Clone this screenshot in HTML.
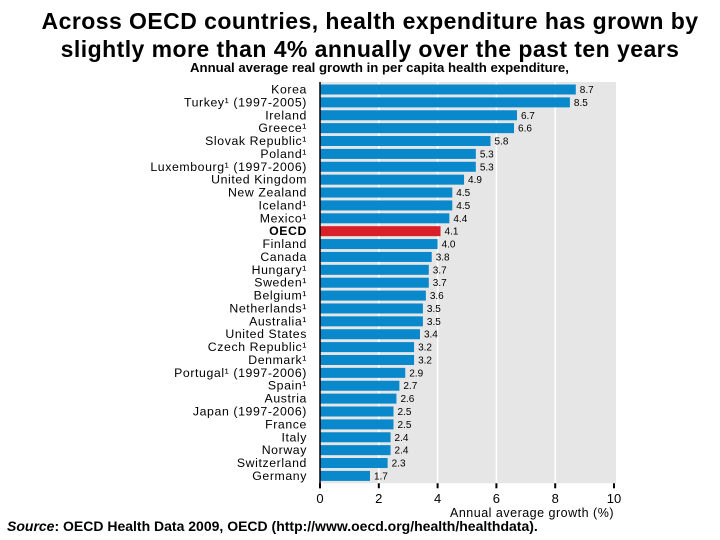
<!DOCTYPE html>
<html><head><meta charset="utf-8"><style>
body{margin:0;width:720px;height:540px;background:#fff;font-family:"Liberation Sans",sans-serif;overflow:hidden;position:relative}
.t{position:absolute;left:10px;width:720px;text-align:center;font-size:23px;font-weight:bold;line-height:28px;color:#000;letter-spacing:0.45px}
</style></head><body>
<div class="t" style="top:7px">Across OECD countries, health expenditure has grown by<br>slightly more than 4% annually over the past ten years</div>
<div style="position:absolute;left:190px;top:60px;font-size:13.2px;font-weight:bold">Annual average real growth in per capita health expenditure,</div>
<svg id="c" width="720" height="540" style="position:absolute;left:0;top:0"></svg>
<div style="position:absolute;left:7px;top:518px;font-size:14px;font-weight:bold"><i>Source</i>: OECD Health Data 2009, OECD (http://www.oecd.org/health/healthdata).</div>
<script>
const categories=["Korea","Turkey¹ (1997-2005)","Ireland","Greece¹","Slovak Republic¹","Poland¹","Luxembourg¹ (1997-2006)","United Kingdom","New Zealand","Iceland¹","Mexico¹","OECD","Finland","Canada","Hungary¹","Sweden¹","Belgium¹","Netherlands¹","Australia¹","United States","Czech Republic¹","Denmark¹","Portugal¹ (1997-2006)","Spain¹","Austria","Japan (1997-2006)","France","Italy","Norway","Switzerland","Germany"];
const values=[8.7,8.5,6.7,6.6,5.8,5.3,5.3,4.9,4.5,4.5,4.4,4.1,4.0,3.8,3.7,3.7,3.6,3.5,3.5,3.4,3.2,3.2,2.9,2.7,2.6,2.5,2.5,2.4,2.4,2.3,1.7];
const ticks=[0,2,4,6,8,10];
const svg=document.getElementById('c');const NS='http://www.w3.org/2000/svg';
const x0=320,x1=614,topY=83,step=12.88;
const X=v=>x0+(v/10)*(x1-x0);
const Y=i=>topY+i*step;
function mk(t,a){const e=document.createElementNS(NS,t);for(const k in a)e.setAttribute(k,a[k]);svg.appendChild(e);return e;}
const bottomY=topY+step*categories.length;
let bg=mk('rect',{x:x0,y:topY-1,width:x1-x0+2,height:step*categories.length+2,fill:'#e6e6e6'});


ticks.forEach(t=>{if(t>0&&t<10){let g=mk('line',{x1:X(t),x2:X(t),y1:topY-1,y2:bottomY+1,stroke:'#fff','stroke-width':1.5});

}
let tk=mk('line',{x1:X(t),x2:X(t),y1:bottomY+1,y2:bottomY+6,stroke:'#000','stroke-width':2});


let tl=mk('text',{x:X(t),y:503,'font-size':13,'text-anchor':'middle',fill:'#000'});tl.textContent=t;

});
categories.forEach((c,i)=>{const y=Y(i);
let b=mk('rect',{x:x0,y:y+1.5,width:X(values[i])-x0,height:10,fill:c==='OECD'?'#d8202a':'#0a88cc'});


let l=mk('text',{x:307,y:y+10.5,'font-size':12.3,'letter-spacing':0.6,'text-anchor':'end',fill:'#000','font-weight':c==='OECD'?'bold':'normal'});l.textContent=c;


let v=mk('text',{x:X(values[i])+4,y:y+10,'font-size':10,fill:'#000'});v.textContent=values[i].toFixed(1);

});
let ax=mk('line',{x1:x0,x2:x0,y1:topY-1,y2:bottomY+6,stroke:'#000','stroke-width':1.5});


let at=mk('text',{x:614,y:517,'font-size':12.5,'letter-spacing':0.5,'text-anchor':'end',fill:'#000'});at.textContent='Annual average growth (%)';


</script>
</body></html>
